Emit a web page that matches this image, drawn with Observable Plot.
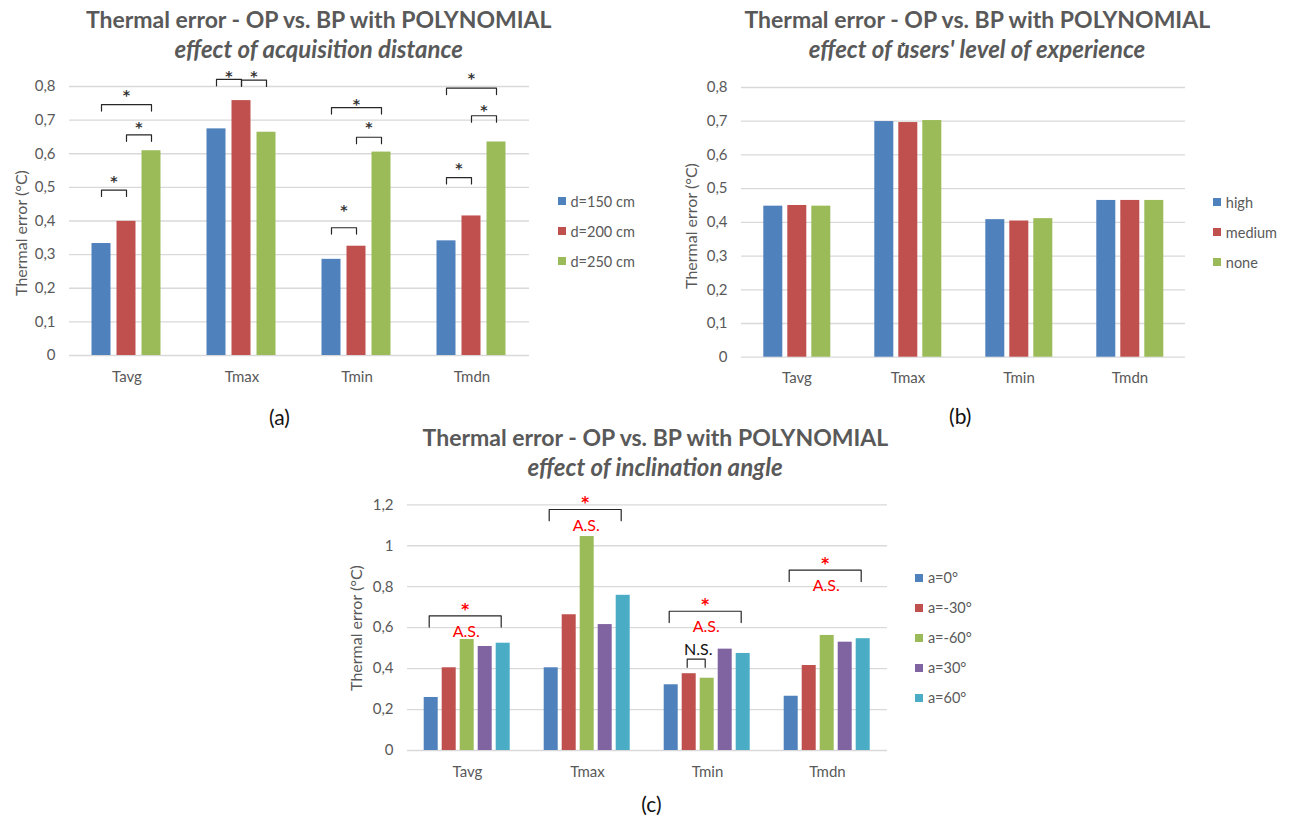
<!DOCTYPE html>
<html>
<head>
<meta charset="utf-8">
<script src="https://cdn.jsdelivr.net/npm/d3@7"></script>
<script src="https://cdn.jsdelivr.net/npm/@observablehq/plot@0.6"></script>
<style>
  html, body { margin: 0; padding: 0; background: #fff; }
  body { width: 1292px; height: 818px; position: relative; overflow: hidden; font-family: Lato, "Open Sans", sans-serif; }
  .ctr { position: absolute; transform: translate(-50%, -50%); white-space: nowrap; line-height: 1; }
  .title { color: #595959; font-weight: 700; font-size: 23px; }
  .subtitle { color: #595959; font-weight: 700; font-style: italic; font-size: 24px; }
  .ylab { position: absolute; transform: translate(-50%, -50%) rotate(-90deg); white-space: nowrap; color: #595959; font-size: 16px; line-height: 1; }
  .panel { color: #111; font-size: 21px; }
  .leg { position: absolute; display: flex; align-items: center; height: 16px; color: #595959; font-size: 14.5px; white-space: nowrap; }
  .sw { width: 8px; height: 8px; margin-right: 4.5px; }
</style>
</head>
<body>
<script>
// ---------- shared ----------
const categories = ["Tavg", "Tmax", "Tmin", "Tmdn"];

// ---------- chart (a): effect of acquisition distance ----------
const distanceSeries = ["d=150 cm", "d=200 cm", "d=250 cm"];
const distanceColors = ["#4F81BD", "#C0504D", "#9BBB59"];
const dist150 = [0.333, 0.674, 0.286, 0.341];
const dist200 = [0.399, 0.758, 0.325, 0.415];
const dist250 = [0.609, 0.664, 0.605, 0.635];
const distTicks = [0, 0.1, 0.2, 0.3, 0.4, 0.5, 0.6, 0.7, 0.8];
const distBracketCategory = ["Tavg", "Tavg", "Tavg", "Tmax", "Tmax", "Tmin", "Tmin", "Tmin", "Tmdn", "Tmdn", "Tmdn"];
const distBracketFrom = [0, 1, 0, 0, 1, 0, 1, 0, 0, 1, 0];
const distBracketTo   = [1, 2, 2, 1, 2, 1, 2, 2, 1, 2, 2];
const distBracketLevel = [0.492, 0.656, 0.746, 0.821, 0.819, 0.380, 0.649, 0.737, 0.529, 0.713, 0.795];
const distStarLevel    = [0.526, 0.687, 0.781, 0.840, 0.840, 0.440, 0.687, 0.756, 0.566, 0.738, 0.832];

// ---------- chart (b): effect of users' level of experience ----------
const experienceSeries = ["high", "medium", "none"];
const experienceColors = ["#4F81BD", "#C0504D", "#9BBB59"];
const expHigh   = [0.448, 0.699, 0.408, 0.465];
const expMedium = [0.450, 0.696, 0.404, 0.465];
const expNone   = [0.448, 0.702, 0.411, 0.465];
const expTicks = [0, 0.1, 0.2, 0.3, 0.4, 0.5, 0.6, 0.7, 0.8];

// ---------- chart (c): effect of inclination angle ----------
const angleSeries = ["a=0°", "a=-30°", "a=-60°", "a=30°", "a=60°"];
const angleColors = ["#4F81BD", "#C0504D", "#9BBB59", "#8064A2", "#4BACC6"];
const angle0   = [0.259, 0.404, 0.321, 0.265];
const angleM30 = [0.404, 0.663, 0.375, 0.415];
const angleM60 = [0.542, 1.045, 0.353, 0.562];
const angleP30 = [0.508, 0.615, 0.495, 0.529];
const angleP60 = [0.524, 0.758, 0.474, 0.546];
const angleTicks = [0, 0.2, 0.4, 0.6, 0.8, 1, 1.2];
const angleBracketCategory = ["Tavg", "Tmax", "Tmin", "Tmdn", "Tmin"];
const angleBracketFrom  = [0, 0, 0, 0, 1];
const angleBracketTo    = [4, 4, 4, 4, 2];
const angleBracketLevel = [0.658, 1.177, 0.680, 0.881, 0.446];
const angleBracketKind  = ["AS", "AS", "AS", "AS", "NS"];

// ---------- helpers ----------
const commaFormat = d => String(d).replace(".", ",");

function rowsFrom(series, valuesList) {
  return categories.flatMap((c, i) => series.map((s, j) => ({category: c, series: s, value: valuesList[j][i]})));
}

function bracketInfo(cats, from, to, levels, series, extra = {}) {
  return cats.map((c, k) => {
    const mid = (from[k] + to[k]) / 2;
    return {
      id: k, category: c, s1: series[from[k]], s2: series[to[k]], level: levels[k],
      midSeries: series[Math.floor(mid)], half: mid !== Math.floor(mid),
      ...Object.fromEntries(Object.entries(extra).map(([key, arr]) => [key, arr[k]]))
    };
  });
}

function bracketPoints(info, drop) {
  return info.flatMap(b => {
    const d = typeof drop === "function" ? drop(b) : drop;
    return [
      {id: b.id, category: b.category, series: b.s1, y: b.level - d},
      {id: b.id, category: b.category, series: b.s1, y: b.level},
      {id: b.id, category: b.category, series: b.s2, y: b.level},
      {id: b.id, category: b.category, series: b.s2, y: b.level - d}
    ];
  });
}

function baseOptions(cfg, extraMarks) {
  return {
    width: cfg.width, height: cfg.height,
    marginLeft: cfg.ml, marginRight: cfg.mr, marginTop: cfg.mt, marginBottom: cfg.mb,
    style: {fontFamily: "Lato, 'Open Sans', sans-serif", fontSize: "15px", color: "#595959", background: "transparent", overflow: "visible"},
    fx: {domain: categories, padding: 0, axis: "bottom", label: null, tickSize: 0, tickPadding: 15.5},
    x: {domain: cfg.series, axis: null, paddingInner: cfg.pi, paddingOuter: cfg.po},
    y: {domain: [0, cfg.yMax], ticks: cfg.ticks, tickFormat: commaFormat, tickSize: 0, tickPadding: 14, label: null},
    color: {domain: cfg.series, range: cfg.colors},
    marks: [
      Plot.ruleY(cfg.ticks, {stroke: "#d9d9d9", strokeWidth: 1.3}),
      Plot.barY(cfg.rows, {fx: "category", x: "series", y: "value", fill: "series"}),
      ...extraMarks
    ]
  };
}

function place(svg, left, top) {
  svg.style.position = "absolute";
  svg.style.left = left + "px";
  svg.style.top = top + "px";
  document.body.appendChild(svg);
}

function addDiv(cls, text, x, y, extraStyle = "") {
  const d = document.createElement("div");
  d.className = cls;
  d.textContent = text;
  d.style.cssText += `left:${x}px;top:${y}px;` + extraStyle;
  document.body.appendChild(d);
  return d;
}

function addLegend(series, colors, x, ys) {
  series.forEach((s, i) => {
    const d = document.createElement("div");
    d.className = "leg";
    d.style.left = x + "px";
    d.style.top = (ys[i] - 8) + "px";
    const sw = document.createElement("div");
    sw.className = "sw";
    sw.style.background = colors[i];
    const t = document.createElement("span");
    t.textContent = s;
    d.appendChild(sw); d.appendChild(t);
    document.body.appendChild(d);
  });
}

const starFont = "'DejaVu Sans', sans-serif";

// ---------- chart (a) ----------
{
  const cfg = {
    width: 540, height: 345, ml: 68.5, mr: 10, mt: 26, mb: 50,
    series: distanceSeries, colors: distanceColors, pi: 0.226, po: 0.903,
    yMax: 0.8, ticks: distTicks,
    rows: rowsFrom(distanceSeries, [dist150, dist200, dist250])
  };
  const probe = Plot.plot(baseOptions(cfg, []));
  const xs = probe.scale("x");
  const step = xs.apply(distanceSeries[1]) - xs.apply(distanceSeries[0]);
  const info = bracketInfo(distBracketCategory, distBracketFrom, distBracketTo, distBracketLevel, distanceSeries, {star: distStarLevel});
  const starOpts = {fx: "category", y: "star", text: () => "*", fill: "#333", fontSize: 14, fontWeight: "bold", fontFamily: starFont, dy: 3};
  const marks = [
    Plot.line(bracketPoints(info, 0.019), {fx: "category", x: "series", y: "y", z: "id", stroke: "#262626", strokeWidth: 1.2}),
    Plot.text(info.filter(b => !b.half), {...starOpts, x: "midSeries"}),
    Plot.text(info.filter(b => b.half), {...starOpts, x: "midSeries", dx: step / 2})
  ];
  place(Plot.plot(baseOptions(cfg, marks)), 0, 60);
  addDiv("ctr title", "Thermal error - OP vs. BP with POLYNOMIAL", 318.7, 19);
  addDiv("ctr subtitle", "effect of acquisition distance", 318.7, 49);
  addDiv("ylab", "Thermal error (°C)", 21, 233);
  addLegend(distanceSeries, distanceColors, 558, [201, 231, 261]);
  addDiv("ctr panel", "(a)", 279.5, 415.5);
}

// ---------- chart (b) ----------
{
  const cfg = {
    width: 560, height: 345, ml: 100.7, mr: 14.7, mt: 27, mb: 48.3,
    series: experienceSeries, colors: experienceColors, pi: 0.213, po: 0.84,
    yMax: 0.8, ticks: expTicks,
    rows: rowsFrom(experienceSeries, [expHigh, expMedium, expNone])
  };
  place(Plot.plot(baseOptions(cfg, [])), 640, 60);
  addDiv("ctr title", "Thermal error - OP vs. BP with POLYNOMIAL", 977.3, 19);
  addDiv("ctr subtitle", "effect of users' level of experience", 977, 49.3);
  addDiv("ctr", "*", 903, 47, "font-size:10px;font-weight:700;color:#333;font-family:'DejaVu Sans',sans-serif;");
  addDiv("ylab", "Thermal error (°C)", 691, 226);
  addLegend(experienceSeries, experienceColors, 1213.3, [202.3, 232.3, 262.3]);
  addDiv("ctr panel", "(b)", 960.3, 415);
}

// ---------- chart (c) ----------
{
  const cfg = {
    width: 570, height: 305, ml: 76.3, mr: 11.7, mt: 24.3, mb: 35,
    series: angleSeries, colors: angleColors, pi: 0.2, po: 0.887,
    yMax: 1.2, ticks: angleTicks,
    rows: rowsFrom(angleSeries, [angle0, angleM30, angleM60, angleP30, angleP60])
  };
  const probe = Plot.plot(baseOptions(cfg, []));
  const xs = probe.scale("x");
  const step = xs.apply(angleSeries[1]) - xs.apply(angleSeries[0]);
  const info = bracketInfo(angleBracketCategory, angleBracketFrom, angleBracketTo, angleBracketLevel, angleSeries, {kind: angleBracketKind});
  const as = info.filter(b => b.kind === "AS");
  const ns = info.filter(b => b.kind === "NS");
  const marks = [
    Plot.line(bracketPoints(info, b => b.kind === "AS" ? 0.055 : 0.04), {fx: "category", x: "series", y: "y", z: "id", stroke: "#262626", strokeWidth: 1.2, dx: -2}),
    Plot.text(as, {fx: "category", x: "midSeries", y: "level", text: () => "*", fill: "#FF0000", fontSize: 15, fontWeight: "bold", fontFamily: starFont, dy: -6, dx: -2}),
    Plot.text(as, {fx: "category", x: "midSeries", y: "level", text: () => "A.S.", fill: "#FF0000", fontSize: 16, dy: 16, dx: -1}),
    Plot.text(ns, {fx: "category", x: "midSeries", y: "level", text: () => "N.S.", fill: "#111", fontSize: 16, dy: -9.5, dx: step / 2})
  ];
  place(Plot.plot(baseOptions(cfg, marks)), 330, 480);
  addDiv("ctr title", "Thermal error - OP vs. BP with POLYNOMIAL", 655.4, 437.3);
  addDiv("ctr subtitle", "effect of inclination angle", 655, 466.7);
  addDiv("ylab", "Thermal error (°C)", 356.4, 627.5);
  addLegend(angleSeries, angleColors, 915.4, [577.7, 607.7, 637.7, 667.7, 697.7]);
  addDiv("ctr panel", "(c)", 651.5, 803);
}
</script>
</body>
</html>
